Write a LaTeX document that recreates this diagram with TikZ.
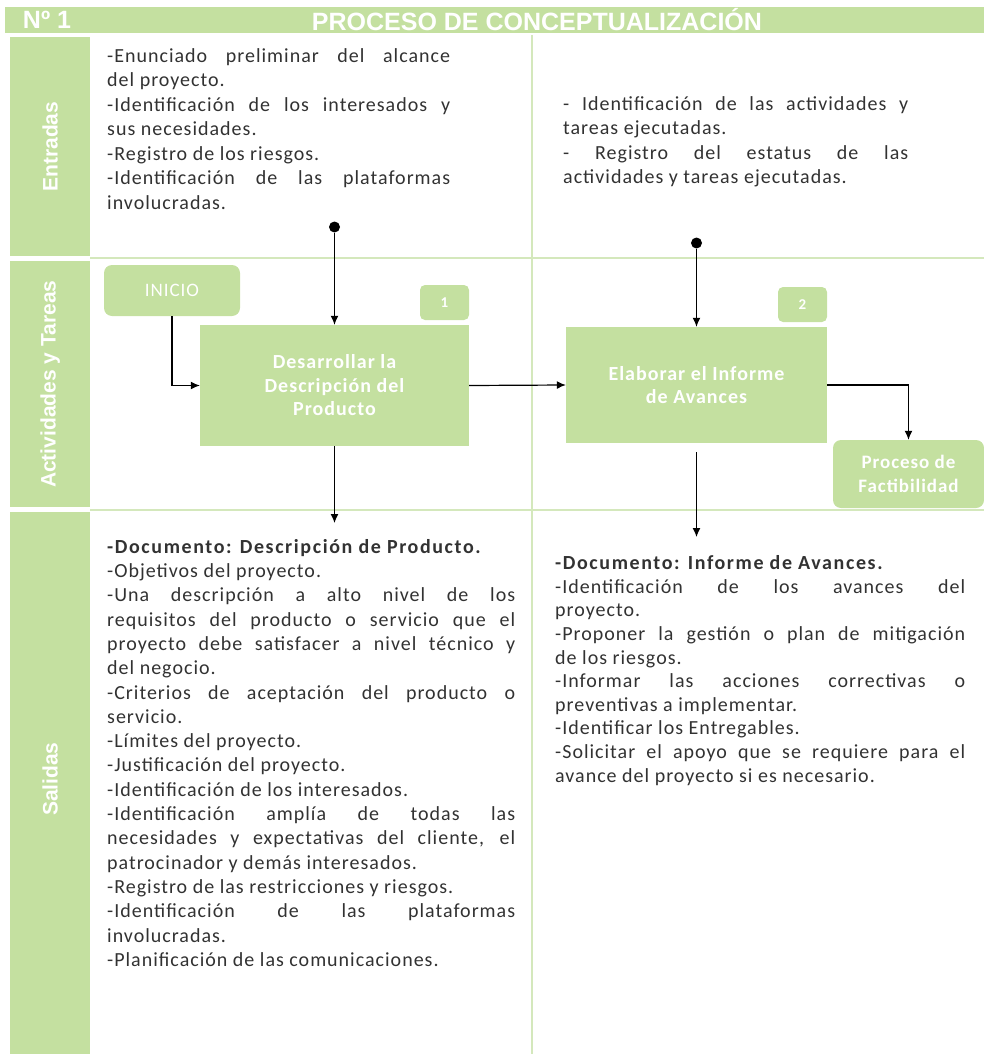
\documentclass[tikz,border=0pt]{standalone}
\usepackage{fontspec}
\setmainfont{Carlito}[LetterSpace=5]
\newfontfamily\headfont{Liberation Sans}
\usetikzlibrary{arrows.meta}
\definecolor{lane}{HTML}{C4E0A0}
\definecolor{rulegreen}{HTML}{D4E8BC}
\definecolor{ink}{HTML}{323232}
\setlength{\parindent}{0pt}
\setlength{\parskip}{0pt}
\hbadness=10000
\hfuzz=20pt
% bold heading line of an output list, set a little wider
\newcommand{\doctitle}[1]{{\addfontfeature{LetterSpace=8}\bfseries #1}}

\begin{document}
\begin{tikzpicture}[x=1pt,y=-1pt,
  band/.style={fill=lane, draw=none, inner sep=0pt, anchor=north west},
  task/.style={fill=lane, draw=none, text=white, align=center, inner sep=0pt,
    font=\fontsize{20}{23.5}\selectfont\bfseries},
  tag/.style={fill=lane, draw=none, rounded corners=5pt, text=white, inner sep=0pt,
    minimum width=49, minimum height=35, font=\fontsize{15}{16}\selectfont\bfseries},
  flow/.style={line width=1.2pt, -{Latex[length=9pt,width=8pt]}},
  lanelabel/.style={text=white, rotate=90, inner sep=0pt,
    font=\headfont\fontsize{21}{24}\selectfont\bfseries},
  body/.style={text=ink, align=justify, inner sep=0pt, anchor=north west},
  dot/.style={circle, fill=black, inner sep=0pt, minimum size=11pt},
  sep/.style={draw=rulegreen, line width=2pt},
]
\useasboundingbox (0,0) rectangle (984,1054);

% header band
\node[band, minimum width=979, minimum height=26] (head) at (5,7) {};
\node[text=white, font=\headfont\fontsize{25}{28}\selectfont\bfseries] (num) at (47,20) {Nº 1};
\node[text=white, font=\headfont\fontsize{25}{28}\selectfont\bfseries] (title) at (537,20) {PROCESO DE CONCEPTUALIZACIÓN};

% swimlane strip on the left
\node[band, minimum width=80, minimum height=219] (laneA) at (10,37) {};
\node[band, minimum width=80, minimum height=246] (laneB) at (10,261) {};
\node[band, minimum width=80, minimum height=542] (laneC) at (10,512) {};
\node[lanelabel] (labA) at (laneA.center) {Entradas};
\node[lanelabel] (labB) at (laneB.center) {Actividades y Tareas};
\node[lanelabel] (labC) at ([yshift=4pt]laneC.center) {Salidas};

% grid lines
\draw[sep] (90,258) -- (984,258);
\draw[sep] (90,510) -- (984,510);
\draw[sep] (532,35) -- (532,1054);

% inputs
\node[body, text width=343, font=\fontsize{20}{24.5}\selectfont] (inA) at (107,45) {%
\strut-Enunciado preliminar del alcance\linebreak del proyecto.\par
-Identificación de los interesados y\linebreak sus necesidades.\par
-Registro de los riesgos.\par
-Identificación  de las plataformas\linebreak involucradas.\par};

\node[body, text width=345, font=\fontsize{20}{24}\selectfont] (inB) at (563,94) {%
\strut- Identificación de las actividades y\linebreak tareas ejecutadas.\par
- Registro del estatus de las\linebreak actividades y tareas ejecutadas.\par};

% activities
\node[task, rounded corners=8pt, minimum width=136, minimum height=51, font=\fontsize{19}{22}\selectfont] (inicio) at (172,290.5) {INICIO};
\node[task, minimum width=269, minimum height=121] (b1) at (334.5,385.5) {Desarrollar la\\Descripción del\\Producto};
\node[tag] (n1) at (444.5,302.5) {1};
\node[task, minimum width=261, minimum height=116] (b2) at (696.5,385) {Elaborar el Informe\\de Avances};
\node[tag] (n2) at (802.5,304.5) {2};
\node[task, rounded corners=8pt, minimum width=151, minimum height=68, font=\fontsize{19}{24}\selectfont\bfseries] (fact) at (908.5,474) {Proceso de\\Factibilidad};

\node[dot] (d1) at (334.5,227) {};
\node[dot] (d2) at (696.5,243) {};
\coordinate (o1) at (334.5,523);
\coordinate (o2) at (696.5,537);

\draw[flow] (d1) -- (b1.north);
\draw[flow] (d2) -- (b2.north);
\draw[flow] (inicio.south) |- (b1.west);
\draw[flow] (b1.east) -- (b2.west);
\draw[flow] (b2.east) -| (fact.north);
\draw[flow] (b1.south) -- (o1);
\draw[flow, shorten <=9pt] (b2.south) -- (o2);

% outputs
\node[body, text width=408, font=\fontsize{20}{24.3}\selectfont] (outA) at (107,536) {%
\strut\doctitle{-Documento: Descripción de Producto.}\par
-Objetivos del proyecto.\par
-Una descripción a alto nivel de los\linebreak requisitos del producto o servicio que el\linebreak proyecto debe satisfacer a nivel técnico y\linebreak del negocio.\par
-Criterios de aceptación del producto o\linebreak servicio.\par
-Límites del proyecto.\par
-Justificación del proyecto.\par
-Identificación de los interesados.\par
-Identificación amplía de todas las\linebreak necesidades y expectativas del cliente, el\linebreak patrocinador y demás interesados.\par
-Registro de las restricciones y riesgos.\par
-Identificación de las plataformas\linebreak involucradas.\par
-Planificación de las comunicaciones.\par};

\node[body, text width=410, font=\fontsize{20}{23.6}\selectfont] (outB) at (555,553) {%
\strut\doctitle{-Documento: Informe de Avances.}\par
-Identificación de los avances del\linebreak proyecto.\par
-Proponer la gestión o plan de mitigación\linebreak de los riesgos.\par
-Informar las acciones correctivas o\linebreak preventivas a implementar.\par
-Identificar los Entregables.\par
-Solicitar el apoyo que se requiere para el\linebreak avance del proyecto si es necesario.\par};
\end{tikzpicture}
\end{document}
